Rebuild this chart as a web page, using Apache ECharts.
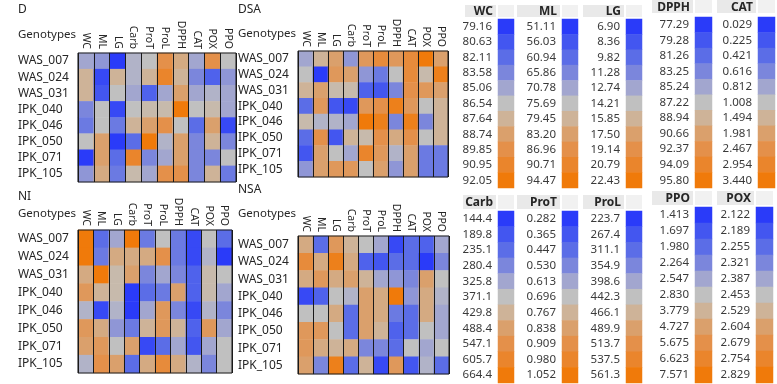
<!DOCTYPE html>
<html>
<head>
<meta charset="utf-8">
<script src="https://cdn.jsdelivr.net/npm/echarts@6/dist/echarts.min.js"></script>
<style>html,body{margin:0;padding:0;background:#fff}#c{width:777px;height:384px}</style>
</head>
<body>
<div id="c"></div>
<script>
// Traits (heatmap columns) and genotypes (rows)
const traits = ['WC','ML','LG','Carb','ProT','ProL','DPPH','CAT','POX','PPO'];
const genotypes = ['WAS_007','WAS_024','WAS_031','IPK_040','IPK_046','IPK_050','IPK_071','IPK_105'];

// Colour level of each cell (0 = lowest/blue, 5 = mid/grey, 10 = highest/orange), rows x traits
const levelsD = [
  [4,3.5,0,4.5,5,8,6.5,4,8,5],
  [6,0.5,6,4.5,6,9,6,3,1.5,3.5],
  [6,1,5,4,1.5,4,7,4,4.5,4],
  [3,5,0.5,5,5.5,5.5,10,5,5.5,4],
  [2.5,5,2.5,6,7,8,5,2,7,0.5],
  [5,7,0,2,10,4.5,7,3,6,3],
  [0,7,2,9,3,4,7,3,3,5],
  [3.5,6.5,2.5,5.5,4,8,8,3,6,2.5]
];
const levelsDSA = [
  [4,6,7,3.5,7.5,8.5,7.5,8.5,10,7],
  [5,0,7.5,7,3.5,2.5,5,8.5,5.5,9.5],
  [6,7,5.5,5.5,1.5,1,3,8,7.5,7],
  [2,7.5,1,0.5,7.5,8,9.5,7.5,5,6],
  [5.5,4.5,4.5,4,10,9.5,3,9.5,3,6],
  [2,8,1,6,5.5,8,6.5,8,5,6],
  [1,7,5,4,9,7.5,4.5,7,2.5,2.5],
  [3.5,7,7.5,7.5,5,7,3.5,7,2.5,2.5]
];
const levelsNI = [
  [10,2,4,10,2.5,5,2.5,0.5,5,2],
  [10,2.5,6.5,6.5,6.5,8,2.5,0.5,4.5,0],
  [6.5,10,5.5,7,3,4,3,1.5,5.5,5],
  [7.5,6,5.5,0,2,2.5,7,1.5,5.5,4],
  [4.5,0.5,4.5,0,4,7.5,3,0.5,4.5,3],
  [7.5,6.5,3.5,2.5,6,7.5,6,1.5,7.5,4],
  [7,7.5,5,7,0.5,2,4,1,4,5],
  [4.5,8,7,2,6.5,8.5,6.5,4.5,3,5]
];
const levelsNSA = [
  [6.5,2,7.5,6,5,4,0.5,2,1.5,4],
  [8.5,6.5,9.5,6.5,1.5,1,2,2,0,3],
  [6.5,7.5,6.5,7,6,4,3.5,3,7,5],
  [0.5,1.5,5,4.5,7,6.5,10,3.5,6.5,4.5],
  [5,5,6.5,2,7,6.5,2.5,2,6.5,4],
  [7.5,7.5,5,2,7,6,1.5,2,5,4],
  [7.5,6.5,6,6.5,3,3,2,5,4,5],
  [7,3,9.5,2,6,0.5,7.5,1,4.5,2]
];

// Colour key tick labels per trait (top to bottom)
const keyWC   = ['79.16','80.63','82.11','83.58','85.06','86.54','87.64','88.74','89.85','90.95','92.05'];
const keyML   = ['51.11','56.03','60.94','65.86','70.78','75.69','79.45','83.20','86.96','90.71','94.47'];
const keyLG   = ['6.90','8.36','9.82','11.28','12.74','14.21','15.85','17.50','19.14','20.79','22.43'];
const keyDPPH = ['77.29','79.28','81.26','83.25','85.24','87.22','88.94','90.66','92.37','94.09','95.80'];
const keyCAT  = ['0.029','0.225','0.421','0.616','0.812','1.008','1.494','1.981','2.467','2.954','3.440'];
const keyCarb = ['144.4','189.8','235.1','280.4','325.8','371.1','429.8','488.4','547.1','605.7','664.4'];
const keyProT = ['0.282','0.365','0.447','0.530','0.613','0.696','0.767','0.838','0.909','0.980','1.052'];
const keyProL = ['223.7','267.4','311.1','354.9','398.6','442.3','466.1','489.9','513.7','537.5','561.3'];
const keyPPO  = ['1.413','1.697','1.980','2.264','2.547','2.830','3.779','4.727','5.675','6.623','7.571'];
const keyPOX  = ['2.122','2.189','2.255','2.321','2.387','2.453','2.529','2.604','2.679','2.754','2.829'];
const keyLevels = [0,1,2,3,4,5,6,7,8,9,10];

const palette = ['#2a3bf9','#4356f0','#5b6de7','#7b86dc','#a2a6cf','#c0c0c0','#ceb398','#daa06c','#e4904a','#ea852c','#f07a0a'];
const FONT = "'Noto Sans', sans-serif";
const TXT = '#262626';

const panels = [
  {name:'D',   data:levelsD,   box:{left:78, top:53, width:158, height:129}, tx:18,  ty:12,  gy:38},
  {name:'DSA', data:levelsDSA, box:{left:298,top:51, width:150, height:126}, tx:238, ty:12,  gy:37},
  {name:'NI',  data:levelsNI,  box:{left:78, top:230,width:154, height:143}, tx:18,  ty:199, gy:217},
  {name:'NSA', data:levelsNSA, box:{left:298,top:236,width:151, height:138}, tx:238, ty:192, gy:217}
];

const keys = [
  {name:'WC',   vals:keyWC,   box:{left:498,top:19, width:16,height:169}, hl:465, hy:5,   hh:12},
  {name:'ML',   vals:keyML,   box:{left:562,top:19, width:16,height:169}, hl:517, hy:5,   hh:12},
  {name:'LG',   vals:keyLG,   box:{left:626,top:19, width:16,height:169}, hl:583, hy:5,   hh:12},
  {name:'DPPH', vals:keyDPPH, box:{left:695,top:17, width:17,height:171}, hl:652, hy:0,   hh:13},
  {name:'CAT',  vals:keyCAT,  box:{left:758,top:17, width:17,height:171}, hl:717, hy:0,   hh:13},
  {name:'Carb', vals:keyCarb, box:{left:498,top:211,width:16,height:172}, hl:463, hy:195, hh:14},
  {name:'ProT', vals:keyProT, box:{left:562,top:211,width:16,height:172}, hl:517, hy:195, hh:14},
  {name:'ProL', vals:keyProL, box:{left:626,top:211,width:16,height:172}, hl:583, hy:195, hh:14},
  {name:'PPO',  vals:keyPPO,  box:{left:695,top:207,width:17,height:176}, hl:652, hy:191, hh:14},
  {name:'POX',  vals:keyPOX,  box:{left:756,top:207,width:17,height:176}, hl:717, hy:191, hh:14}
];

const grid = [], xAxis = [], yAxis = [], series = [], graphic = [];

panels.forEach((p, i) => {
  grid.push(Object.assign({show:true, z:10, borderColor:'#1a1a1a', borderWidth:1, backgroundColor:'transparent'}, p.box));
  xAxis.push({type:'category', gridIndex:i, data:traits, position:'top', z:10,
    axisLine:{show:false}, axisTick:{show:false},
    splitLine:{show:true, interval:0, lineStyle:{color:'#1a1a1a', width:1}},
    axisLabel:{rotate:90, interval:0, margin:4, fontSize:10.5, color:TXT, fontFamily:FONT}});
  yAxis.push({type:'category', gridIndex:i, data:genotypes, inverse:true,
    axisLine:{show:false}, axisTick:{show:false}, splitLine:{show:false},
    axisLabel:{align:'left', interval:0, margin:p.box.left - p.tx, fontSize:12, color:TXT, fontFamily:FONT}});
  const d = [];
  p.data.forEach((row, r) => row.forEach((v, c) => d.push([c, r, v])));
  series.push({type:'heatmap', xAxisIndex:i, yAxisIndex:i, data:d, emphasis:{disabled:true}, itemStyle:{borderWidth:0}});
  graphic.push({type:'text', left:p.tx, top:p.ty - 8, style:{text:p.name, font:'12px ' + FONT, fill:TXT}});
  graphic.push({type:'text', left:p.tx, top:p.gy - 9, style:{text:'Genotypes', font:'11.5px ' + FONT, fill:TXT}});
});

keys.forEach((k, j) => {
  const gi = panels.length + j;
  grid.push(Object.assign({show:false}, k.box));
  xAxis.push({type:'category', gridIndex:gi, data:[k.name], show:false});
  yAxis.push({type:'category', gridIndex:gi, data:k.vals, inverse:true,
    axisLine:{show:false}, axisTick:{show:false}, splitLine:{show:false},
    axisLabel:{interval:0, margin:6, fontSize:11.5, color:'#3a3a3a', fontFamily:FONT}});
  series.push({type:'heatmap', xAxisIndex:gi, yAxisIndex:gi, emphasis:{disabled:true},
    data:keyLevels.map((lv, r) => [0, r, lv])});
  // header background and text
  const sl = k.box.left, sw = k.box.width;
  graphic.push({type:'rect', z:-1, shape:{x:k.hl, y:k.hy, width:sl - 2 - k.hl, height:k.hh}, style:{fill:'#e9e9e9'}});
  graphic.push({type:'rect', z:-1, shape:{x:sl, y:k.hy, width:sw, height:k.hh}, style:{fill:'#f1f1f1'}});
  graphic.push({type:'text', x:sl - 5, y:k.hy + k.hh / 2 + 1,
    style:{text:k.name, font:'bold 12px ' + FONT, fill:TXT, align:'right', verticalAlign:'middle'}});
});

const chart = echarts.init(document.getElementById('c'), null, {renderer:'canvas'});
chart.setOption({
  animation:false,
  backgroundColor:'#ffffff',
  grid, xAxis, yAxis, series, graphic,
  visualMap:{type:'continuous', show:false, min:0, max:10, dimension:2,
    seriesIndex:series.map((s, i) => i), inRange:{color:palette}}
});
</script>
</body>
</html>
